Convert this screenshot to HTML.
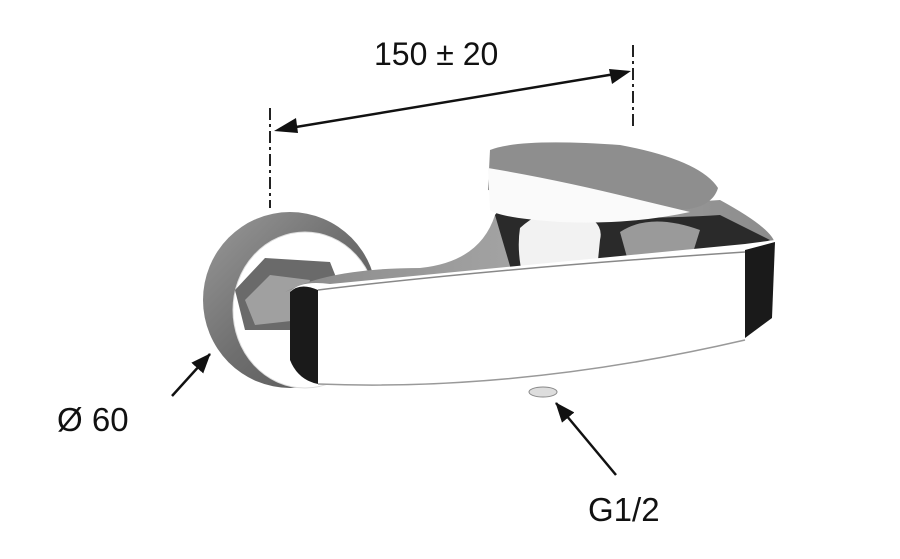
<!DOCTYPE html>
<html><head><meta charset="utf-8"><style>
html,body{margin:0;padding:0;background:#fff;width:900px;height:559px;overflow:hidden}
svg{display:block}
text{font-family:"Liberation Sans",sans-serif;fill:#111}
</style></head><body>
<svg width="900" height="559" viewBox="0 0 900 559">
<defs>
<linearGradient id="ros" x1="0" y1="0" x2="1" y2="1">
<stop offset="0" stop-color="#9a9a9a"/><stop offset="0.5" stop-color="#6e6e6e"/><stop offset="1" stop-color="#555"/></linearGradient>
<linearGradient id="top" x1="0" y1="0" x2="1" y2="0">
<stop offset="0" stop-color="#8a8a8a"/><stop offset="0.5" stop-color="#a5a5a5"/><stop offset="1" stop-color="#8c8c8c"/></linearGradient>
<marker id="ar2" markerWidth="20" markerHeight="16" refX="19" refY="8" orient="auto" markerUnits="userSpaceOnUse" viewBox="0 0 20 16"><path d="M0,0 L20,8 L0,16 z" fill="#111"/></marker>
</defs>

<text x="374" y="65" font-size="32">150 ± 20</text>
<line x1="270" y1="108" x2="270" y2="208" stroke="#222" stroke-width="2" stroke-dasharray="12,4,3,4"/>
<line x1="633" y1="45" x2="633" y2="130" stroke="#222" stroke-width="2" stroke-dasharray="12,4,3,4"/>
<line x1="290" y1="128" x2="615" y2="74" stroke="#111" stroke-width="2.5"/>
<path d="M274,131 L296,118 L298,133 z" fill="#111"/>
<path d="M631,71 L609,69 L612,84 z" fill="#111"/>

<ellipse cx="290" cy="300" rx="87" ry="88" fill="url(#ros)"/>
<ellipse cx="305" cy="310" rx="72" ry="78" fill="#fff" stroke="#ddd"/>
<path d="M235,290 L265,258 L330,262 L345,300 L300,330 L245,330 z" fill="#6a6a6a"/>
<path d="M245,300 L270,275 L310,280 L300,320 L255,325 z" fill="#a0a0a0"/>

<path d="M285,292 Q330,268 420,268 Q480,262 495,215 L720,200 Q775,230 775,245 Q600,258 290,290 z" fill="url(#top)"/>
<path d="M495,215 Q520,180 560,185 L600,215 Q640,220 720,215 L770,240 L720,262 L520,300 Z" fill="#2a2a2a"/>
<path d="M520,228 Q545,205 575,212 Q605,220 600,240 L595,290 L530,300 Q515,260 520,228 z" fill="#f2f2f2"/>
<path d="M620,232 Q650,212 700,230 L690,262 L630,268 z" fill="#9a9a9a"/>

<path d="M490,150 Q520,138 620,145 Q700,160 718,188 Q712,208 680,210 Q600,205 488,190 z" fill="#8e8e8e"/>
<path d="M488,168 Q560,180 640,200 L690,212 Q630,225 560,222 Q500,218 490,210 z" fill="#fafafa"/>

<path d="M290,292 Q300,280 330,284 L745,244 L775,240 L770,320 L745,340 Q560,390 320,385 Q295,380 290,360 z" fill="#fff"/>
<path d="M290,292 Q300,282 318,290 L318,384 Q298,380 290,360 z" fill="#1a1a1a"/>
<path d="M745,250 L775,242 L772,318 L745,338 z" fill="#1a1a1a"/>
<path d="M318,290 Q500,268 745,252" stroke="#888" stroke-width="1.5" fill="none"/>
<path d="M318,384 Q520,392 745,340" stroke="#999" stroke-width="1.5" fill="none"/>
<ellipse cx="543" cy="392" rx="14" ry="5" fill="#ddd" stroke="#888"/>

<line x1="172" y1="396" x2="210" y2="354" stroke="#111" stroke-width="2.5" marker-end="url(#ar2)"/>
<text x="57" y="431" font-size="33">Ø 60</text>
<line x1="616" y1="475" x2="556" y2="403" stroke="#111" stroke-width="2.5" marker-end="url(#ar2)"/>
<text x="588" y="521" font-size="33">G1/2</text>
</svg>
</body></html>
